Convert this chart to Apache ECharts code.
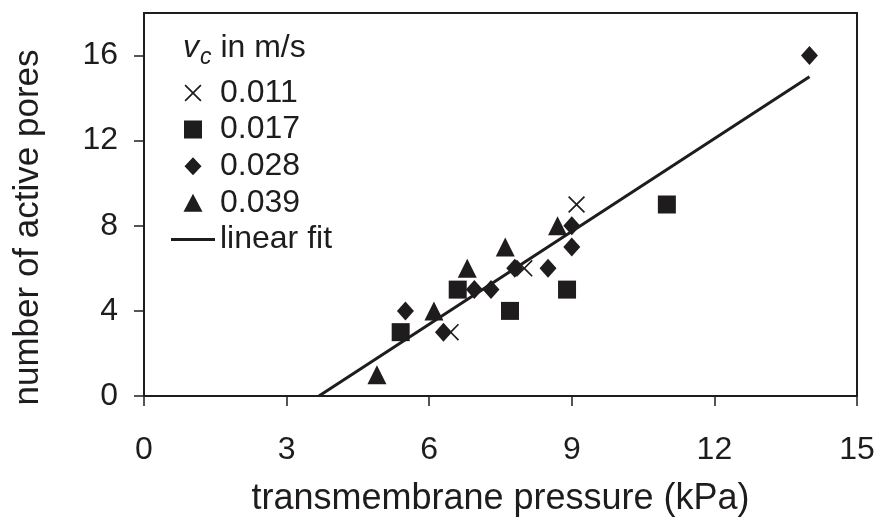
<!DOCTYPE html>
<html>
<head>
<meta charset="utf-8">
<script src="https://cdn.jsdelivr.net/npm/echarts@6/dist/echarts.min.js"></script>
<style>
html,body{margin:0;padding:0;background:#fff;}
#chart{width:882px;height:522px;}
</style>
</head>
<body>
<div id="chart"></div>
<script>
// ---- data ----
const seriesNames = ['0.011', '0.017', '0.028', '0.039'];
const v011 = [[6.45, 3], [8.0, 6], [9.1, 9]];
const v017 = [[5.4, 3], [6.6, 5], [7.7, 4], [8.9, 5], [11.0, 9]];
const v028 = [[5.5, 4], [6.3, 3], [6.95, 5], [7.3, 5], [7.8, 6], [8.5, 6], [9.0, 7], [9.0, 8], [14.0, 16]];
const v039 = [[4.9, 1], [6.1, 4], [6.8, 6], [7.6, 7], [8.7, 8]];
const fitLine = [[3.68, 0], [14.0, 15.0]];
const xTicks = [0, 3, 6, 9, 12, 15];
const yTicks = [0, 4, 8, 12, 16];

const ink = '#1f1c1d';
const font = 'Liberation Sans, Arial, Helvetica, sans-serif';
const crossPath = 'path://M0,1.4 L1.4,0 L10,8.6 L18.6,0 L20,1.4 L11.4,10 L20,18.6 L18.6,20 L10,11.4 L1.4,20 L0,18.6 L8.6,10 Z';
// legend icons laid out in a 44x18 box (tiny end marks fix the box extent)
const ext = 'M0,0 L0.01,0 Z M44,18 L43.99,18 Z ';
const iconCross = 'path://' + ext + 'M13.5,1.7 L14.7,0.5 L22,7.8 L29.3,0.5 L30.5,1.7 L23.2,9 L30.5,16.3 L29.3,17.5 L22,10.2 L14.7,17.5 L13.5,16.3 L20.8,9 Z';
const iconRect = 'path://' + ext + 'M13,0 L31,0 L31,18 L13,18 Z';
const iconDiamond = 'path://' + ext + 'M22,0 L30.5,9 L22,18 L13.5,9 Z';
const iconTriangle = 'path://' + ext + 'M22,0 L31.5,18 L12.5,18 Z';
const iconLine = 'path://' + ext + 'M0,7.5 L44,7.5 L44,10.5 L0,10.5 Z';

const chart = echarts.init(document.getElementById('chart'), null, {renderer: 'canvas'});
chart.setOption({
  animation: false,
  backgroundColor: '#fff',
  textStyle: {fontFamily: font},
  title: {
    left: 183, top: 32, padding: 0,
    text: '{v|v}{c|c}{t| in m/s}',
    textStyle: {
      fontWeight: 'normal',
      rich: {
        v: {fontFamily: font, fontStyle: 'italic', fontWeight: 'normal', fontSize: 32, color: ink, verticalAlign: 'top'},
        c: {fontFamily: font, fontStyle: 'italic', fontWeight: 'normal', fontSize: 23, color: ink, verticalAlign: 'top', padding: [14, 0, 0, 1]},
        t: {fontFamily: font, fontWeight: 'normal', fontSize: 32, color: ink, verticalAlign: 'top'}
      }
    }
  },
  legend: {
    orient: 'vertical',
    left: 171, top: 77, padding: 0,
    itemWidth: 44, itemHeight: 18, itemGap: 4.6,
    textStyle: {fontFamily: font, fontSize: 32, color: ink},
    data: [
      {name: seriesNames[0], icon: iconCross, itemStyle: {opacity: 1}},
      {name: seriesNames[1], icon: iconRect, itemStyle: {opacity: 1}},
      {name: seriesNames[2], icon: iconDiamond, itemStyle: {opacity: 1}},
      {name: seriesNames[3], icon: iconTriangle, itemStyle: {opacity: 1}},
      {name: 'linear fit', icon: iconLine, itemStyle: {opacity: 1}}
    ]
  },
  grid: {
    left: 144, right: 25, top: 13, bottom: 126,
    show: true, borderColor: ink, borderWidth: 2, backgroundColor: 'transparent'
  },
  xAxis: {
    type: 'value', min: 0, max: 15, interval: 3,
    name: 'transmembrane pressure (kPa)', nameLocation: 'middle', nameGap: 85,
    nameTextStyle: {fontFamily: font, fontSize: 36, color: ink},
    axisLine: {show: true, lineStyle: {color: ink, width: 2}},
    axisTick: {show: true, inside: false, length: 10, lineStyle: {color: ink, width: 1.5}, customValues: xTicks},
    axisLabel: {fontFamily: font, fontSize: 32, color: ink, margin: 38, customValues: xTicks},
    splitLine: {show: false}
  },
  yAxis: {
    type: 'value', min: 0, max: 18, interval: 4,
    name: 'number of active pores', nameLocation: 'middle', nameGap: 98, nameRotate: 90,
    nameTextStyle: {fontFamily: font, fontSize: 35, color: ink, padding: [0, 46, 0, 0]},
    axisLine: {show: true, lineStyle: {color: ink, width: 2}},
    axisTick: {show: true, inside: false, length: 10, lineStyle: {color: ink, width: 1.5}, customValues: yTicks},
    axisLabel: {fontFamily: font, fontSize: 32, color: ink, margin: 26, customValues: yTicks},
    splitLine: {show: false}
  },
  series: [
    {name: seriesNames[0], type: 'scatter', data: v011, symbol: crossPath, symbolSize: 17, itemStyle: {color: ink, opacity: 1}, z: 5},
    {name: seriesNames[1], type: 'scatter', data: v017, symbol: 'rect', symbolSize: 18, itemStyle: {color: ink, opacity: 1}, z: 3},
    {name: seriesNames[2], type: 'scatter', data: v028, symbol: 'diamond', symbolSize: [17, 19], itemStyle: {color: ink, opacity: 1}, z: 4},
    {name: seriesNames[3], type: 'scatter', data: v039, symbol: 'triangle', symbolSize: 19, itemStyle: {color: ink, opacity: 1}, z: 3},
    {name: 'linear fit', type: 'line', data: fitLine, symbol: 'none', showSymbol: false,
     lineStyle: {color: ink, width: 3}, itemStyle: {color: ink}, z: 6}
  ]
});
</script>
</body>
</html>
